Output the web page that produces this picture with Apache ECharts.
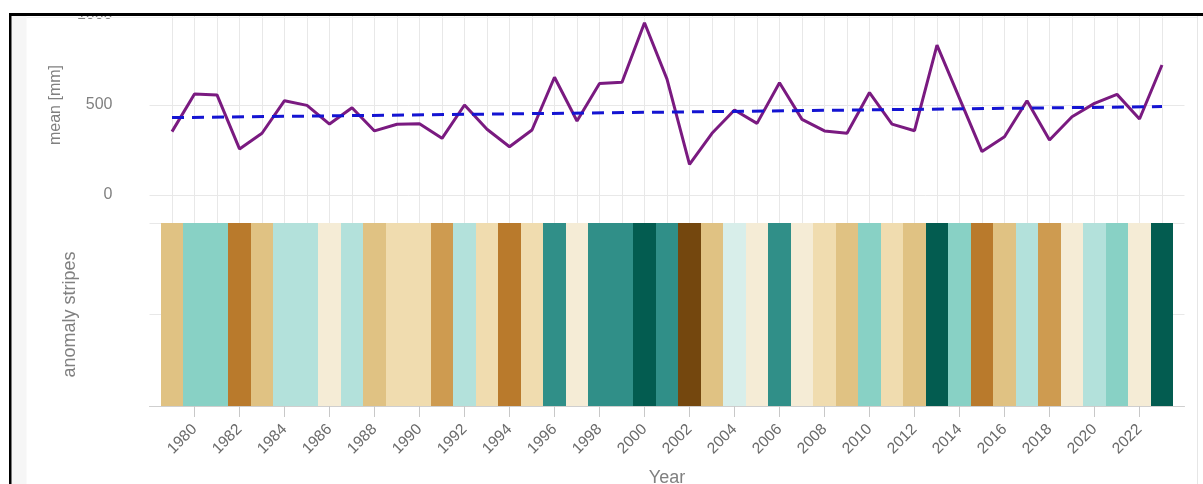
<!DOCTYPE html>
<html>
<head>
<meta charset="utf-8">
<title>mean precipitation + anomaly stripes</title>
<script src="https://cdn.jsdelivr.net/npm/echarts@6.0.0/dist/echarts.min.js"></script>
<style>
  html, body { margin: 0; padding: 0; background: #fff; }
  #chart { width: 1203px; height: 484px; }
</style>
</head>
<body>
<div id="chart"></div>
<script>
// years on the x axis
const years = [
  1979, 1980, 1981, 1982, 1983, 1984, 1985, 1986, 1987, 1988,
  1989, 1990, 1991, 1992, 1993, 1994, 1995, 1996, 1997, 1998,
  1999, 2000, 2001, 2002, 2003, 2004, 2005, 2006, 2007, 2008,
  2009, 2010, 2011, 2012, 2013, 2014, 2015, 2016, 2017, 2018,
  2019, 2020, 2021, 2022, 2023
]

// yearly mean [mm]
const meanMm = [
  352, 561, 556, 256, 343, 524, 498, 394, 485, 356,
  393, 396, 315, 500, 365, 268, 361, 654, 411, 620,
  626, 957, 644, 170, 343, 472, 398, 624, 420, 356,
  343, 569, 394, 357, 833, 537, 241, 324, 524, 306,
  435, 509, 559, 422, 722
]

// linear trend, end points
const trendYears = [1979, 2023]
const trendMm = [430, 491]

// anomaly class per year (-5 = driest ... 5 = wettest)
const stripeLevel = [
  -2, 3, 3, -4, -2, 2, 2, 0, 2, -2,
  -1, -1, -3, 2, -1, -4, -1, 4, 0, 4,
  4, 5, 4, -5, -2, 1, 0, 4, 0, -1,
  -2, 3, -1, -2, 5, 3, -4, -2, 2, -3,
  0, 2, 3, 0, 5
]

// y ticks of the upper panel
const meanTicks = [0, 500, 1000]

// BrBG-like colours for the classes
const levels = [-5, -4, -3, -2, -1, 0, 1, 2, 3, 4, 5]
const palette = [
  '#74470e', '#b97a2c', '#ce9b50', '#e0c283', '#f0dcaf', '#f5ecd6',
  '#d8eeea', '#b3e1db', '#88d1c5', '#308f88', '#035c50'
]

const font = "'Liberation Sans', Arial, sans-serif"
const gridColor = '#e8e8e8'
const textColor = '#808080'

const chart = echarts.init(document.getElementById('chart'))

// shared settings for the plain year axes
const yearAxis = (gridIndex) => ({
  type: 'value',
  gridIndex,
  min: 1978,
  max: 2024,
  interval: 1,
  axisLine: { show: false },
  axisTick: { show: false },
  axisLabel: { show: false },
  splitLine: {
    show: true,
    showMinLine: false,
    showMaxLine: false,
    lineStyle: { color: gridColor, width: 1 }
  }
})

const option = {
  backgroundColor: '#fff',
  animation: false,
  textStyle: { fontFamily: font },
  grid: [
    { left: 149.5, width: 1035, top: 15, height: 180, outerBoundsMode: 'none' },
    { left: 149.5, width: 1035, top: 195, height: 28, outerBoundsMode: 'none' },
    { left: 149.5, width: 1035, top: 223, height: 183, outerBoundsMode: 'none' }
  ],
  xAxis: [
    yearAxis(0),
    yearAxis(1),
    {
      type: 'value',
      gridIndex: 2,
      min: 1978,
      max: 2024,
      interval: 2,
      name: 'Year',
      nameLocation: 'middle',
      nameGap: 63,
      nameTextStyle: { color: textColor, fontSize: 18, fontFamily: font },
      axisLine: { show: true, lineStyle: { color: '#cfcfcf', width: 1 } },
      axisTick: { show: true, length: 11, lineStyle: { color: '#c8c8c8' } },
      axisLabel: {
        rotate: 45,
        margin: 21,
        color: '#6a6a6a',
        fontSize: 15.5,
        fontFamily: font,
        showMinLabel: false,
        showMaxLabel: false,
        formatter: (v) => (v >= years[0] && v <= years[years.length - 1] ? String(v) : '')
      },
      splitLine: { show: false }
    }
  ],
  yAxis: [
    {
      type: 'value',
      gridIndex: 0,
      min: meanTicks[0],
      max: meanTicks[meanTicks.length - 1],
      interval: meanTicks[1] - meanTicks[0],
      name: 'mean [mm]',
      nameLocation: 'middle',
      nameGap: 86,
      nameTextStyle: { color: textColor, fontSize: 16, fontFamily: font },
      axisLine: { show: false },
      axisTick: { show: false },
      axisLabel: {
        color: textColor,
        fontSize: 16,
        margin: 37,
        fontFamily: font,
        formatter: (v) => String(v)
      },
      splitLine: { lineStyle: { color: gridColor, width: 1 } }
    },
    {
      type: 'value',
      gridIndex: 1,
      min: 0,
      max: 1,
      show: false
    },
    {
      type: 'value',
      gridIndex: 2,
      min: 0,
      max: 2,
      interval: 1,
      name: 'anomaly stripes',
      nameLocation: 'middle',
      nameGap: 70,
      nameTextStyle: { color: textColor, fontSize: 18, fontFamily: font },
      axisLine: { show: false },
      axisTick: { show: false },
      axisLabel: { show: false },
      splitLine: { lineStyle: { color: gridColor, width: 1 } }
    }
  ],
  visualMap: {
    type: 'piecewise',
    show: false,
    seriesIndex: 2,
    dimension: 1,
    pieces: levels.map((v, i) => ({ value: v, color: palette[i] }))
  },
  series: [
    {
      name: 'mean',
      type: 'line',
      xAxisIndex: 0,
      yAxisIndex: 0,
      symbol: 'none',
      data: years.map((y, i) => [y, meanMm[i]]),
      lineStyle: { color: '#7a1a80', width: 3 },
      z: 3
    },
    {
      name: 'trend',
      type: 'line',
      xAxisIndex: 0,
      yAxisIndex: 0,
      symbol: 'none',
      data: trendYears.map((y, i) => [y, trendMm[i]]),
      lineStyle: { color: '#1414d2', width: 3, type: [12, 8] },
      z: 4
    },
    {
      name: 'stripes',
      type: 'custom',
      xAxisIndex: 2,
      yAxisIndex: 2,
      data: years.map((y, i) => [y, stripeLevel[i]]),
      renderItem: (params, api) => {
        const yr = api.value(0)
        const p0 = api.coord([yr - 0.5, 2])
        const p1 = api.coord([yr + 0.5, 0])
        const x0 = Math.round(p0[0])
        const x1 = Math.round(p1[0])
        return {
          type: 'rect',
          shape: { x: x0, y: p0[1], width: x1 - x0, height: p1[1] - p0[1] },
          style: { fill: api.style().fill }
        }
      }
    }
  ],
  // screenshot frame around the chart
  graphic: [
    { type: 'rect', z: 100, shape: { x: 0, y: 0, width: 1203, height: 13 }, style: { fill: '#fff' } },
    { type: 'rect', z: 101, shape: { x: 9, y: 13, width: 1194, height: 3 }, style: { fill: '#000' } },
    { type: 'rect', z: 101, shape: { x: 9, y: 13, width: 2.5, height: 471 }, style: { fill: '#000' } },
    { type: 'rect', z: 1, shape: { x: 11.5, y: 16, width: 15, height: 468 }, style: { fill: '#f6f6f6' } },
    { type: 'rect', z: 1, shape: { x: 26.5, y: 17, width: 1171, height: 1 }, style: { fill: '#f0f0f0' } },
    { type: 'rect', z: 1, shape: { x: 1197, y: 16, width: 1, height: 468 }, style: { fill: '#e6e6e6' } }
  ]
}

chart.setOption(option)
</script>
</body>
</html>
